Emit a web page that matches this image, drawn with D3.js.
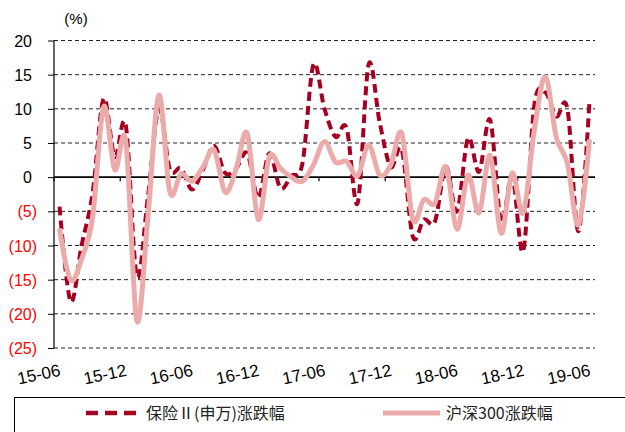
<!DOCTYPE html>
<html><head><meta charset="utf-8">
<script src="https://cdn.jsdelivr.net/npm/d3@7"></script>
<style>body{margin:0;background:#fff}svg{display:block}</style>
</head><body>
<script>
const months = ["15-06","15-07","15-08","15-09","15-10","15-11","15-12","16-01","16-02","16-03","16-04","16-05",
"16-06","16-07","16-08","16-09","16-10","16-11","16-12","17-01","17-02","17-03","17-04","17-05",
"17-06","17-07","17-08","17-09","17-10","17-11","17-12","18-01","18-02","18-03","18-04","18-05",
"18-06","18-07","18-08","18-09","18-10","18-11","18-12","19-01","19-02","19-03","19-04","19-05","19-06"];
const tickLabels = ["15-06","15-12","16-06","16-12","17-06","17-12","18-06","18-12","19-06"];
const yTicks = [20,15,10,5,0,-5,-10,-15,-20,-25];
const insurance = [-4.3,-18.2,-10,-2.3,11.5,3,7.6,-14.5,-3,10,1.1,1.3,-1.8,1.1,4.6,0.6,1.3,3.5,-3.0,3.5,-1.6,0.2,2,16.5,10,5.9,7.2,-3.8,16.5,8,1.5,4,-8.7,-6.2,-6.5,1.5,-5,5.7,0.8,8.4,-6.5,0.2,-10.8,10.5,12.4,8.9,10,-7.9,11.1];
const hs300 = [-7.5,-15,-12,-5.8,10.3,1.1,5.2,-21,-6,12,-2.2,0.5,-0.6,1.5,4,-2.2,1.2,6.4,-6.2,3,1.3,0,-0.6,1.8,5.2,2.2,2.3,0.2,4.7,0.3,1.8,6.4,-6.2,-3.3,-3.8,1.5,-7.6,0.3,-5.2,3.2,-8.2,0.6,-5.2,6.9,14.7,5.8,2,-7,5.5];
const seriesNames = ["保险Ⅱ(申万)涨跌幅","沪深300涨跌幅"];

const W=625,H=432;
const svg=d3.select("body").append("svg").attr("width",W).attr("height",H);
const x=d3.scaleBand().domain(months).range([54,595]);
const cx=m=>x(m)+x.bandwidth()/2;
const y=d3.scaleLinear().domain([-25,20]).range([348,40.5]);
const font="'Liberation Sans',Arial,sans-serif";

// gridlines
svg.append("g").selectAll("line").data(yTicks.filter(d=>d!==0)).join("line")
  .attr("x1",54).attr("x2",595).attr("y1",d=>y(d)).attr("y2",d=>y(d))
  .attr("stroke","#222").attr("stroke-width",1).attr("stroke-dasharray","4,3");

// y axis
const yAxis=d3.axisLeft(y).tickValues(yTicks).tickSize(6).tickFormat("");
const gy=svg.append("g").attr("transform","translate(54,0)").call(yAxis);
gy.select(".domain").attr("stroke","#000").attr("stroke-width",1.2).attr("d","M0,40.5V348");
gy.selectAll(".tick line").attr("stroke","#000");
svg.append("g").selectAll("text").data(yTicks).join("text")
  .attr("x",d=>d<0?37:32).attr("y",d=>y(d)+6)
  .attr("text-anchor","end").attr("font-family",font).attr("font-size",16)
  .attr("fill",d=>d<0?"#FF0000":"#000").text(d=>d<0?`(${-d})`:d);
svg.append("text").attr("x",76).attr("y",24).attr("text-anchor","middle")
  .attr("font-family",font).attr("font-size",15).text("(%)");

// zero line with ticks
const xTickCats=months.filter((m,i)=>i%6===0);
const gx=svg.append("g").attr("transform",`translate(0,${y(0)})`)
  .call(d3.axisBottom(x).tickValues(xTickCats).tickSize(4).tickFormat(""));
gx.select(".domain").attr("stroke","#000").attr("stroke-width",1.6).attr("d","M54,0H595");
gx.selectAll(".tick").attr("transform",d=>`translate(${x(d)},0)`);
gx.selectAll(".tick line").attr("stroke","#000").attr("stroke-width",1.2);

// x labels
svg.append("g").selectAll("text").data(tickLabels).join("text")
  .attr("transform",d=>`translate(${x(d)-14},380) rotate(-12)`)
  .attr("text-anchor","middle").attr("font-family",font).attr("font-size",17)
  .text(d=>d);

const line=d3.line().curve(d3.curveCatmullRom.alpha(0));
const ptsA=months.map((m,i)=>[cx(m),y(insurance[i])]);
const ptsB=months.map((m,i)=>[cx(m),y(hs300[i])]);
svg.append("path").attr("d",line(ptsA)).attr("fill","none")
  .attr("stroke","#A50021").attr("stroke-width",4).attr("stroke-dasharray","9,5");
svg.append("path").attr("d",line(ptsB)).attr("fill","none")
  .attr("stroke","#EBABAA").attr("stroke-width",5).attr("stroke-linejoin","round");

// legend
svg.append("rect").attr("x",14.5).attr("y",397.5).attr("width",620).attr("height",50)
  .attr("fill","none").attr("stroke","#000").attr("stroke-width",1);
const leg=svg.append("g");
leg.append("line").attr("x1",86).attr("x2",136).attr("y1",413).attr("y2",413)
  .attr("stroke","#A50021").attr("stroke-width",4.5).attr("stroke-dasharray","12,7");
leg.append("line").attr("x1",383).attr("x2",440).attr("y1",413).attr("y2",413)
  .attr("stroke","#EBABAA").attr("stroke-width",5);
leg.selectAll("text").data(seriesNames).join("text")
  .attr("x",(d,i)=>i===0?146:446).attr("y",419)
  .attr("font-family","'Noto Sans CJK SC',sans-serif").attr("font-size",16).attr("fill","#222")
  .text(d=>d);
</script>
</body></html>
